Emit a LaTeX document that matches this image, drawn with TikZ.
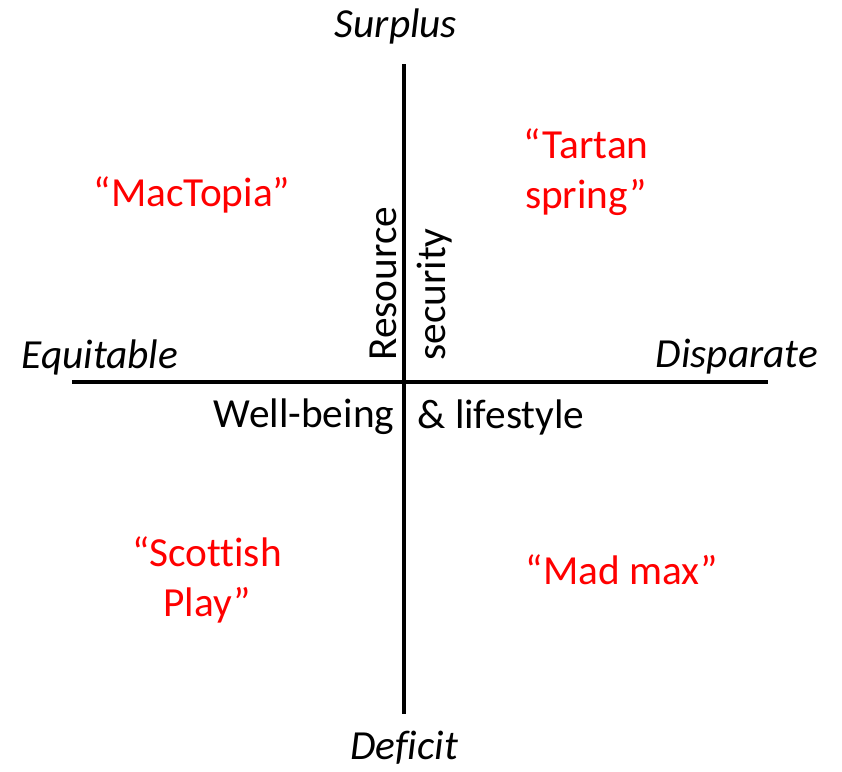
\documentclass[tikz,border=0pt]{standalone}
\usepackage{fontspec}
\setmainfont[Ligatures={NoCommon,NoRare}]{Carlito}
\begin{document}
\begin{tikzpicture}[x=0.75pt,y=-0.75pt,
  axis/.style={line width=3pt},
  lbl/.style={inner sep=0pt,font=\fontsize{31}{37}\selectfont},
  albl/.style={lbl,font=\fontsize{31}{37}\selectfont\itshape},
  scen/.style={lbl,text=red,align=center}]
\useasboundingbox (0,0) rectangle (842,771);
\coordinate (top) at (404,64);
\coordinate (bot) at (404,714);
\coordinate (lft) at (72,382);
\coordinate (rgt) at (768,382);
\draw[axis] (top) -- (bot);
\draw[axis] (lft) -- (rgt);
\node[albl] (surplus) at (396,26) {Surplus};
\node[albl] (deficit) at (404,748) {Deficit};
\node[albl] (equit) at (100,357) {Equitable};
\node[albl] (disp) at (737,357) {Disparate};
\node[lbl,rotate=90,anchor=base west] (res) at (396,361) {Resource};
\node[lbl,rotate=90,anchor=base west] (sec) at (445,361) {security};
\node[lbl] (well) at (304,417) {Well-being};
\node[lbl] (life) at (501,417) {\& lifestyle};
\node[scen] (mac) at (192,195) {“MacTopia”};
\node[scen] (tartan) at (586,172) {“Tartan\\spring”};
\node[scen] (scot) at (207,580) {“Scottish\\Play”};
\node[scen] (mad) at (622,570) {“Mad max”};
\end{tikzpicture}
\end{document}
